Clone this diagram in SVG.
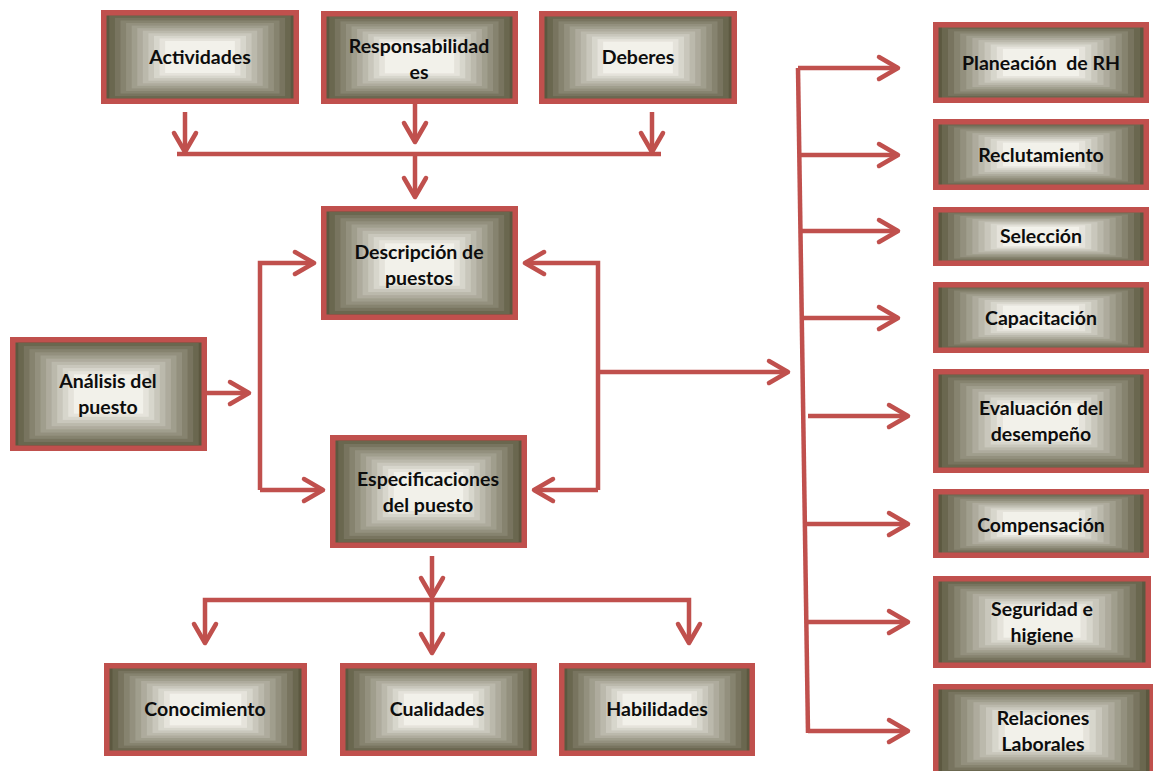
<svg xmlns="http://www.w3.org/2000/svg" xmlns:xlink="http://www.w3.org/1999/xlink" width="1153" height="771" viewBox="0 0 1153 771">
<style>
.bd{fill:none;stroke:#c0504d;stroke-width:5.5}
.t{font-family:Lato,"Open Sans",sans-serif;font-weight:bold;font-size:19.5px;text-anchor:middle;fill:#0d0d0d}
.c{fill:none;stroke:#c0504d;stroke-width:4.5;stroke-linejoin:miter}
.a{marker-end:url(#ah)}
</style>
<defs>
<marker id="ah" markerUnits="userSpaceOnUse" viewBox="-24 -14 28 28" refX="0" refY="0" markerWidth="28" markerHeight="28" orient="auto" overflow="visible">
<path d="M-19 -11 L0 0 L-19 11" fill="none" stroke="#c0504d" stroke-width="4.5" stroke-linecap="round" stroke-linejoin="round"/>
</marker>
<symbol id="g" viewBox="0 0 100 100" preserveAspectRatio="none">
<rect x="0" y="0" width="100" height="100" fill="#5c5840"/>
<rect x="2.9" y="2.9" width="94.2" height="94.2" fill="#6a674f"/>
<rect x="5.8" y="5.8" width="88.4" height="88.4" fill="#78745f"/>
<rect x="8.7" y="8.7" width="82.6" height="82.6" fill="#86836f"/>
<rect x="11.6" y="11.6" width="76.8" height="76.8" fill="#93907e"/>
<rect x="14.5" y="14.5" width="71" height="71" fill="#a09e8d"/>
<rect x="17.4" y="17.4" width="65.2" height="65.2" fill="#aeab9d"/>
<rect x="20.3" y="20.3" width="59.4" height="59.4" fill="#bbb9ac"/>
<rect x="23.2" y="23.2" width="53.6" height="53.6" fill="#c9c7bc"/>
<rect x="26.1" y="26.1" width="47.8" height="47.8" fill="#d7d6cc"/>
<rect x="29" y="29" width="42" height="42" fill="#e5e3db"/>
<rect x="31.9" y="31.9" width="36.2" height="36.2" fill="#f2f1ea"/>
</symbol>
</defs>
<rect width="1153" height="771" fill="#fff"/>

<g id="connectors">
<path class="c a" d="M185 112 L185 152"/>
<path class="c" d="M177 154 L661 154"/>
<path class="c a" d="M415 104 L415 142"/>
<path class="c a" d="M652 112 L652 152"/>
<path class="c a" d="M415 154 L415 197"/>
<path class="c a" d="M207 393 L249 393"/>
<path class="c a" d="M260 490 L260 263 L314 263"/>
<path class="c a" d="M260 490 L323 490"/>
<path class="c a" d="M598 490 L598 263 L525 263"/>
<path class="c a" d="M598 490 L534 490"/>
<path class="c a" d="M598 372 L788 372"/>
<path class="c" d="M798 68 L808 733"/>
<path class="c a" d="M798 68 L898 68"/>
<path class="c a" d="M799 155 L898 155"/>
<path class="c a" d="M800 231 L898 231"/>
<path class="c a" d="M801 318 L898 318"/>
<path class="c a" d="M808 416 L908 416"/>
<path class="c a" d="M804 524 L908 524"/>
<path class="c a" d="M806 622 L908 622"/>
<path class="c a" d="M808 731 L908 731"/>
<path class="c a" d="M432 556 L432 597"/>
<path class="c a" d="M432 600 L205 600 L205 643"/>
<path class="c a" d="M432 600 L689 600 L689 643"/>
<path class="c a" d="M432 600 L432 653"/>
</g>

<g id="actividades"><use xlink:href="#g" href="#g" x="103.75" y="12.75" width="192.5" height="88.5"/><rect class="bd" x="103.75" y="12.75" width="192.5" height="88.5"/><text class="t" x="200" y="64">Actividades</text></g>
<g id="responsabilidades"><use xlink:href="#g" href="#g" x="323.75" y="13.75" width="191.5" height="87.5"/><rect class="bd" x="323.75" y="13.75" width="191.5" height="87.5"/><text class="t" x="419" y="52.5">Responsabilidad</text><text class="t" x="419" y="78.5">es</text></g>
<g id="deberes"><use xlink:href="#g" href="#g" x="541.75" y="13.75" width="192.5" height="87.5"/><rect class="bd" x="541.75" y="13.75" width="192.5" height="87.5"/><text class="t" x="638" y="64">Deberes</text></g>
<g id="descripcion"><use xlink:href="#g" href="#g" x="323.75" y="208.75" width="191.5" height="108.5"/><rect class="bd" x="323.75" y="208.75" width="191.5" height="108.5"/><text class="t" x="419" y="259">Descripción de</text><text class="t" x="419" y="285">puestos</text></g>
<g id="analisis"><use xlink:href="#g" href="#g" x="12.75" y="339.75" width="191.5" height="108.5"/><rect class="bd" x="12.75" y="339.75" width="191.5" height="108.5"/><text class="t" x="108" y="388">Análisis del</text><text class="t" x="108" y="414">puesto</text></g>
<g id="especificaciones"><use xlink:href="#g" href="#g" x="332.75" y="437.75" width="191.5" height="107.5"/><rect class="bd" x="332.75" y="437.75" width="191.5" height="107.5"/><text class="t" x="428" y="486">Especificaciones</text><text class="t" x="428" y="512">del puesto</text></g>
<g id="conocimiento"><use xlink:href="#g" href="#g" x="106.75" y="665.75" width="197.5" height="87.5"/><rect class="bd" x="106.75" y="665.75" width="197.5" height="87.5"/><text class="t" x="205" y="716">Conocimiento</text></g>
<g id="cualidades"><use xlink:href="#g" href="#g" x="342.75" y="665.75" width="191.5" height="87.5"/><rect class="bd" x="342.75" y="665.75" width="191.5" height="87.5"/><text class="t" x="437" y="716">Cualidades</text></g>
<g id="habilidades"><use xlink:href="#g" href="#g" x="561.75" y="665.75" width="190.5" height="87.5"/><rect class="bd" x="561.75" y="665.75" width="190.5" height="87.5"/><text class="t" x="657" y="716">Habilidades</text></g>
<g id="planeacion"><use xlink:href="#g" href="#g" x="935.75" y="24.75" width="210.5" height="75.5"/><rect class="bd" x="935.75" y="24.75" width="210.5" height="75.5"/><text class="t" x="1041" y="70" xml:space="preserve" style="white-space:pre">Planeación  de RH</text></g>
<g id="reclutamiento"><use xlink:href="#g" href="#g" x="935.75" y="121.75" width="210.5" height="65.5"/><rect class="bd" x="935.75" y="121.75" width="210.5" height="65.5"/><text class="t" x="1041" y="162">Reclutamiento</text></g>
<g id="seleccion"><use xlink:href="#g" href="#g" x="935.75" y="209.75" width="210.5" height="53.5"/><rect class="bd" x="935.75" y="209.75" width="210.5" height="53.5"/><text class="t" x="1041" y="243">Selección</text></g>
<g id="capacitacion"><use xlink:href="#g" href="#g" x="935.75" y="284.75" width="210.5" height="65.5"/><rect class="bd" x="935.75" y="284.75" width="210.5" height="65.5"/><text class="t" x="1041" y="325">Capacitación</text></g>
<g id="evaluacion"><use xlink:href="#g" href="#g" x="935.75" y="371.75" width="210.5" height="98.5"/><rect class="bd" x="935.75" y="371.75" width="210.5" height="98.5"/><text class="t" x="1041" y="415">Evaluación del</text><text class="t" x="1041" y="441">desempeño</text></g>
<g id="compensacion"><use xlink:href="#g" href="#g" x="935.75" y="491.75" width="210.5" height="63.5"/><rect class="bd" x="935.75" y="491.75" width="210.5" height="63.5"/><text class="t" x="1041" y="532">Compensación</text></g>
<g id="seguridad"><use xlink:href="#g" href="#g" x="935.75" y="578.75" width="212.5" height="86.5"/><rect class="bd" x="935.75" y="578.75" width="212.5" height="86.5"/><text class="t" x="1042" y="616">Seguridad e</text><text class="t" x="1042" y="642">higiene</text></g>
<g id="relaciones"><use xlink:href="#g" href="#g" x="935.75" y="686.75" width="216.5" height="88.5"/><rect class="bd" x="935.75" y="686.75" width="216.5" height="88.5"/><text class="t" x="1043" y="725">Relaciones</text><text class="t" x="1043" y="751">Laborales</text></g>
</svg>
